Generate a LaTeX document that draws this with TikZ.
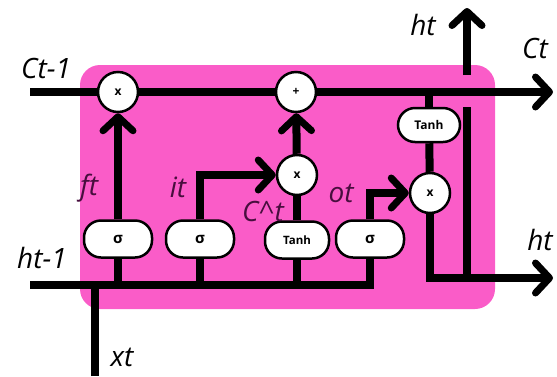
\documentclass[tikz,border=0pt]{standalone}
\usepackage{fontspec}
\setmainfont{Open Sans}
\usetikzlibrary{arrows.meta}
\definecolor{cellpink}{RGB}{250,92,200}
\definecolor{inlbl}{RGB}{72,14,62}
\begin{document}
\begin{tikzpicture}[x=1pt,y=-1pt,
  wire/.style={line width=8pt},
  arr/.style={line width=8pt,-{Straight Barb[length=14pt,width=30pt,line width=7pt,round]}},
  gate/.style={draw,line width=2.5pt,fill=white,rounded corners=17pt,minimum width=68pt,minimum height=37pt,inner sep=0pt,font=\bfseries\fontsize{13}{13}\selectfont},
  op/.style={draw,circle,line width=2.5pt,fill=white,minimum size=40pt,inner sep=0pt,font=\bfseries\fontsize{12}{12}\selectfont},
  lab/.style={anchor=base,inner sep=0pt,font=\itshape\fontsize{28}{28}\selectfont},
  ilab/.style={lab,text=inlbl}]
\useasboundingbox (0,0) rectangle (557,376);
\fill[cellpink,rounded corners=20pt] (80,65) rectangle (495,309);

% operators
\node[op] (fx) at (118,92) {x};
\node[op] (add) at (296,92) {+};
\node[op] (mx) at (297,175) {x};
\node[op] (ox) at (430,193) {x};
% gates
\node[gate,font=\bfseries\fontsize{15}{15}\selectfont] (sf) at (118,239) {σ};
\node[gate,font=\bfseries\fontsize{15}{15}\selectfont] (si) at (200,239) {σ};
\node[gate,minimum width=64pt,font=\bfseries\fontsize{11.5}{11.5}\selectfont] (tnh) at (297,240) {Tanh};
\node[gate,font=\bfseries\fontsize{15}{15}\selectfont] (so) at (370,239) {σ};
\node[gate,minimum width=62pt,minimum height=34pt,font=\bfseries\fontsize{12}{12}\selectfont] (tr) at (429,125) {Tanh};

% free ends
\coordinate (cin) at (30,92);
\coordinate (cout) at (553,92);
\coordinate (hin) at (30,285);
\coordinate (xin) at (95,376);
\coordinate (hout) at (553,278);
\coordinate (hv1) at (467,107);
\coordinate (hv2) at (467,75);
\coordinate (htop) at (467,8);

% cell state line
\draw[wire] (cin) -- (fx);
\draw[wire] (fx) -- (add);
\draw[arr] (add) -- (cout);
% input line
\draw[wire] (hin) -| (so);
\draw[wire] (xin) -- (xin |- hin);
\draw[wire] (sf |- hin) -- (sf);
\draw[wire] (si |- hin) -- (si);
\draw[wire] (tnh |- hin) -- (tnh);
% gates to operators
\draw[arr] (sf) -- (fx);
\draw[arr] (si) |- (mx);
\draw[wire] (tnh) -- (mx);
\draw[arr] (mx) -- (add);
\draw[arr] (so) |- (ox);
% output
\draw[wire] (tr) -- (tr |- add);
\draw[wire] (tr) -- (ox);
\draw[arr] (ox) |- (hout);
\draw[wire] (hv1) -- (hv1 |- hout);
\draw[arr] (hv2) -- (htop);

% labels
\node[lab] (lct1) at (46,78) {Ct-1};
\node[lab] (lct) at (535,58) {Ct};
\node[lab] (lhtu) at (423,35) {ht};
\node[lab] (lhtr) at (540,250) {ht};
\node[lab] (lht1) at (42,268) {ht-1};
\node[lab] (lxt) at (122,366) {xt};
\node[ilab] (lft) at (89,195) {ft};
\node[ilab] (lit) at (178,197) {it};
\node[ilab] (lct2) at (263,221) {C\textasciicircum t};
\node[ilab] (lot) at (341,202) {ot};
\end{tikzpicture}
\end{document}
